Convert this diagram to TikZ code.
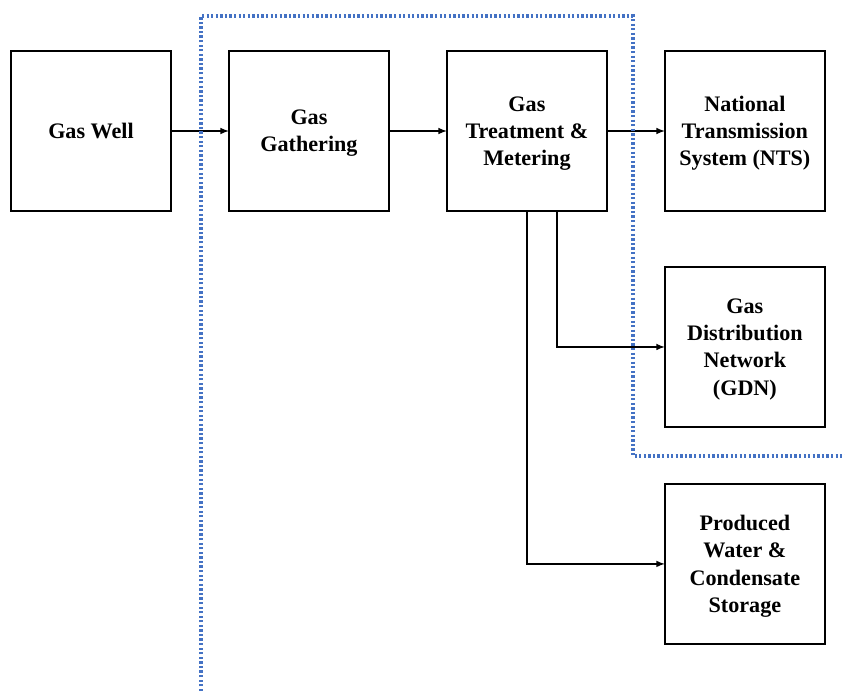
\documentclass[tikz,border=0pt]{standalone}
\usepackage{fontspec}
\setmainfont{Liberation Serif}
\usetikzlibrary{positioning}
\definecolor{zoneblue}{RGB}{68,114,196}
\tikzset{
  unit/.style={draw, line width=0.8pt, minimum width=3.2cm, minimum height=3.2cm,
    outer sep=0pt, align=center, inner sep=2pt, text depth=0pt,
    font=\bfseries\fontsize{12.6}{15.5}\selectfont},
  flow/.style={-latex, line width=0.7pt},
  boundary/.style={zoneblue, line width=1.8pt, dash pattern=on 1.3pt off 1.3pt}
}
\begin{document}
\begin{tikzpicture}[x=0.02cm, y=-0.02cm]
	\useasboundingbox (0,0) rectangle (845,691);
	% process chain
	\node[unit] (well) at (91,131) {Gas Well};
	\node[unit, right=1.16cm of well] (gather) {Gas\\Gathering};
	\node[unit, right=1.16cm of gather] (treat) {Gas\\Treatment \&\\Metering};
	\node[unit, right=1.16cm of treat] (nts) {National\\Transmission\\System (NTS)};
	\node[unit, below=1.12cm of nts] (gdn) {Gas\\Distribution\\Network\\(GDN)};
	\node[unit, below=1.14cm of gdn] (store) {Produced\\Water \&\\Condensate\\Storage};
	% connectors
	\draw[flow] (well) -- (gather);
	\draw[flow] (gather) -- (treat);
	\draw[flow] (treat) -- (nts);
	\draw[flow] ([xshift=0.6cm]treat.south) |- (gdn);
	\draw[flow] (treat.south) |- (store);
	% boundary
	\draw[boundary] (201,691) -- (201,16) -- (633,16) -- (633,456) -- (845,456);
\end{tikzpicture}
\end{document}
